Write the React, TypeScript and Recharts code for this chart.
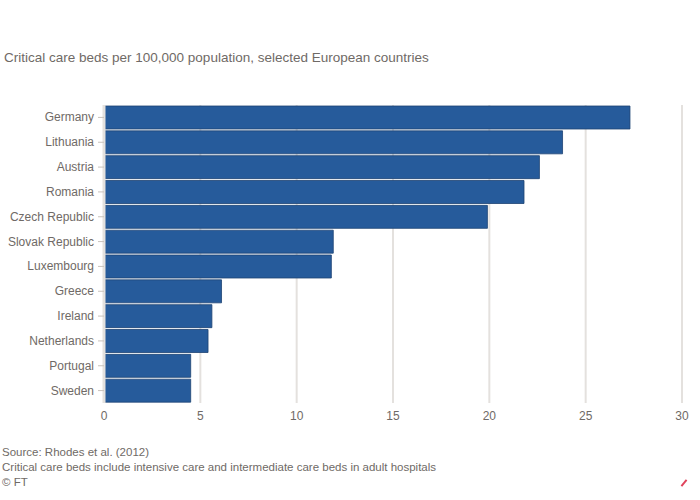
import React from 'react'
import { BarChart, Bar, XAxis, YAxis, CartesianGrid } from 'recharts'

const countries = [
    'Germany', 'Lithuania', 'Austria', 'Romania', 'Czech Republic', 'Slovak Republic',
    'Luxembourg', 'Greece', 'Ireland', 'Netherlands', 'Portugal', 'Sweden',
]
const beds = [27.3, 23.8, 22.6, 21.8, 19.9, 11.9, 11.8, 6.1, 5.6, 5.4, 4.5, 4.5]
const xTicks = [0, 5, 10, 15, 20, 25, 30]

const data = countries.map((name, i) => ({ name, beds: beds[i] }))

const grey = '#6f6a66'
const font = '"Liberation Sans", Arial, sans-serif'

const CountryTick = ({ x, y, payload }: any) => (
    <text x={x - 2} y={y} dy={4} textAnchor="end" fill={grey} fontSize={12} fontFamily={font}>
        {payload.value}
    </text>
)

export default function App() {
    return (
        <div style={{ position: 'absolute', top: 0, left: 0, width: 700, height: 500, background: '#fff', fontFamily: font }}>
            <div style={{ position: 'absolute', top: 50, left: 4, fontSize: 13.5, color: grey, whiteSpace: 'nowrap' }}>
                Critical care beds per 100,000 population, selected European countries
            </div>
            <BarChart width={700} height={500} data={data} layout="vertical"
                margin={{ top: 105, right: 18, left: 0, bottom: 70 }}
                barCategoryGap={1}
            >
                <CartesianGrid horizontal={false} stroke="#e4e1de" strokeWidth={2} />
                <XAxis type="number" domain={[0, 30]} ticks={xTicks} axisLine={false} tickLine={false}
                    tick={{ fill: grey, fontSize: 12, fontFamily: font }} height={27} />
                <YAxis type="category" dataKey="name" width={104} axisLine={{ stroke: '#e4e1de', strokeWidth: 3 }}
                    tickLine={{ stroke: '#c9c3bd' }} tickSize={6}
                    tick={<CountryTick />} interval={0} />
                <Bar dataKey="beds" fill="#265b9b" stroke="#1d4272" strokeWidth={0.8} isAnimationActive={false} />
            </BarChart>
            <div style={{ position: 'absolute', top: 445, left: 2, fontSize: 11.5, color: grey, lineHeight: '15px', whiteSpace: 'nowrap' }}>
                <div>Source: Rhodes et al. (2012)</div>
                <div>Critical care beds include intensive care and intermediate care beds in adult hospitals</div>
                <div>© FT</div>
            </div>
            <div style={{ position: 'absolute', top: 482, left: 680, width: 8, height: 2, background: '#e0435c', transform: 'rotate(-50deg)' }} />
        </div>
    )
}
